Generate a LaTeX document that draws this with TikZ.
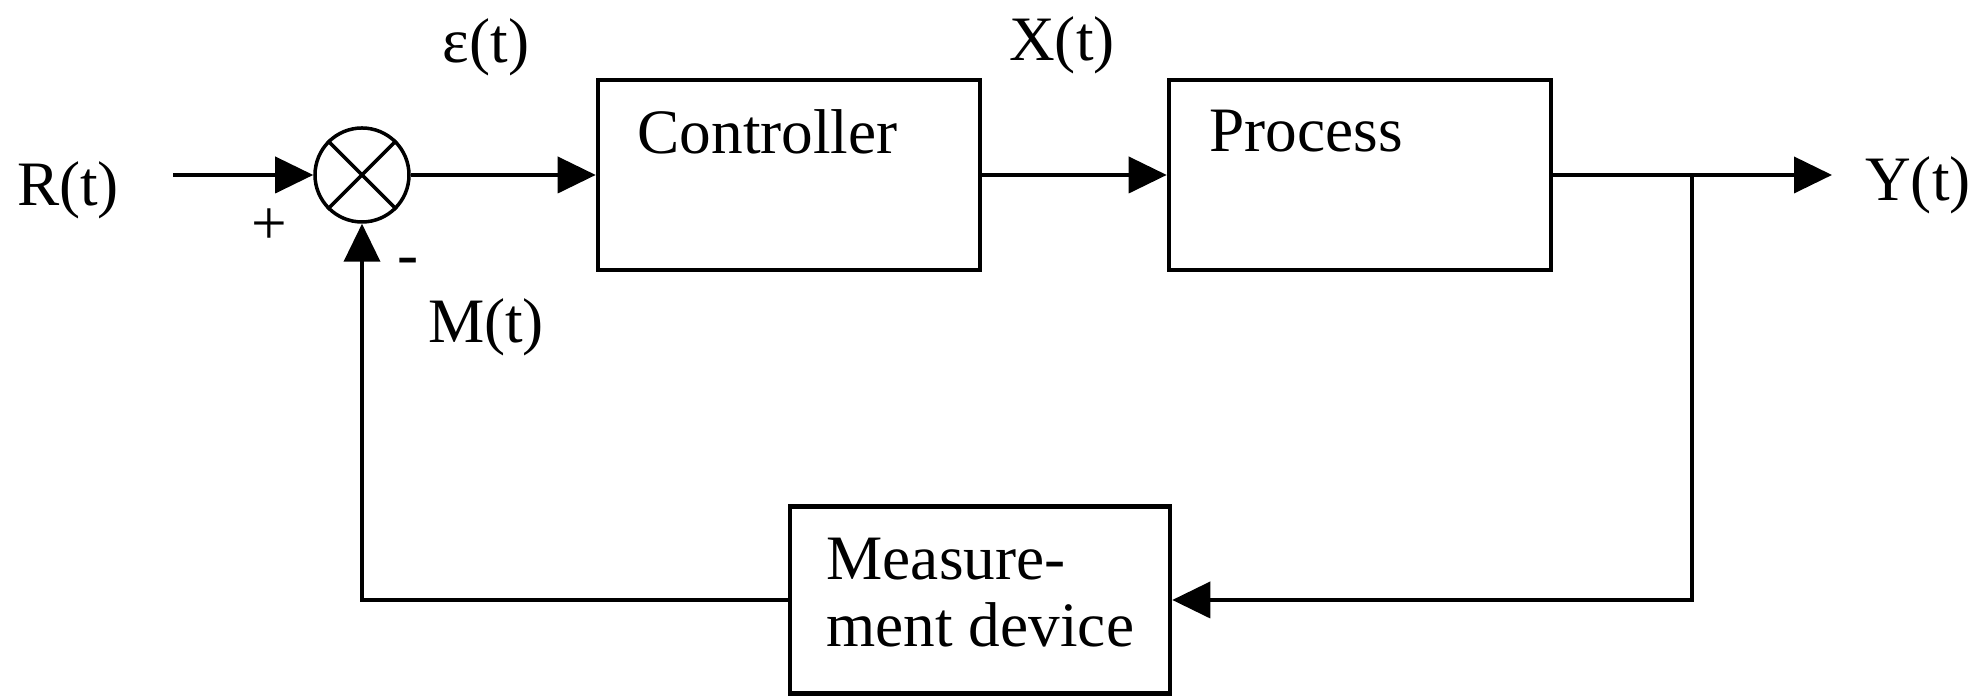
\documentclass[tikz,border=0pt]{standalone}
\usepackage{fontspec}
\setmainfont{Liberation Serif}
\usetikzlibrary{positioning,calc,arrows.meta}
\tikzset{>={Triangle[length=3.8mm,width=3.6mm]}}
\tikzset{block/.style={draw,line width=1.3pt,minimum width=3.82cm,minimum height=1.9cm,inner sep=0pt}}

\begin{document}
\begin{tikzpicture}[line width=1.1pt,font=\fontsize{18}{19}\selectfont]
\useasboundingbox (0,0) rectangle (19.8,6.97);
\node[circle,draw,line width=1pt,minimum size=9.4mm,inner sep=0pt] (sum) at (3.62,5.22) {};
\draw[line width=1pt] (sum.north west) -- (sum.south east) (sum.north east) -- (sum.south west);
\node[block] (ctrl) at (7.89,5.22) {};
\node[block] (proc) at (13.60,5.22) {};
\node[block,minimum width=3.8cm,minimum height=1.87cm] (meas) at (9.80,0.97) {};
\node[anchor=north west,inner sep=0pt] (ctrltext) at ($(ctrl.north west)+(0.40,-0.30)$) {Controller};
\node[anchor=north west,inner sep=0pt] (proctext) at ($(proc.north west)+(0.41,-0.30)$) {Process};
\node[anchor=north west,inner sep=0pt,align=left] (meastext) at ($(meas.north west)+(0.37,-0.32)$) {Measure-\\ment device};
\coordinate (in) at (1.73,5.22);
\coordinate (split) at (16.92,5.22);
\coordinate (out) at (18.32,5.22);
\draw[->] (in) -- (sum);
\draw[->] (sum) -- (ctrl);
\draw[->] (ctrl) -- (proc);
\draw[->] (proc) -- (out);
\draw[->] (split) |- (meas);
\draw[->] (meas) -| (sum);
\node (r) at (0.68,5.07) {R(t)};
\node (eps) at (4.86,6.50) {ε(t)};
\node (x) at (10.62,6.52) {X(t)};
\node (m) at (4.86,3.70) {M(t)};
\node (y) at (19.18,5.12) {Y(t)};
\node (plus) at (2.69,4.70) {+};
\node (minus) at (4.08,4.30) {-};
\end{tikzpicture}
\end{document}
